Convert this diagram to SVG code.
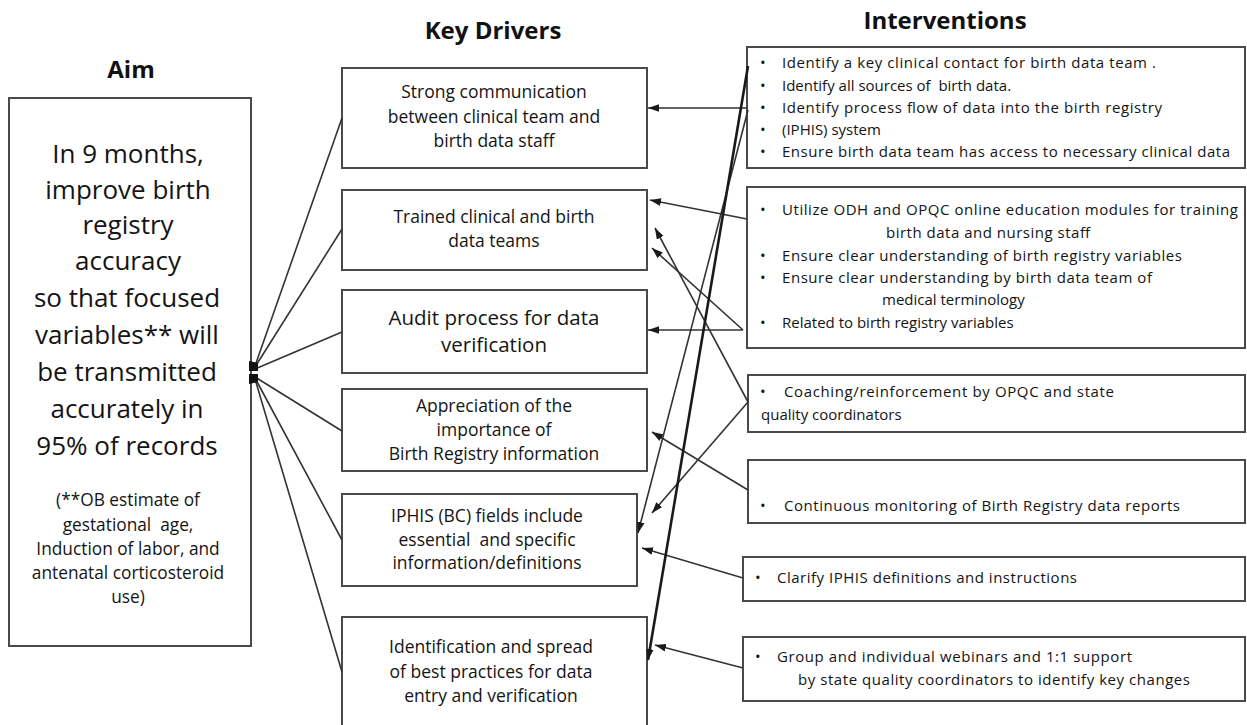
<svg xmlns="http://www.w3.org/2000/svg" width="1247" height="725" viewBox="0 0 1247 725">
<defs>
<style>
.box{fill:#fff;stroke:#4a4a4a;stroke-width:2}
.t{font-family:"Open Sans","Liberation Sans",sans-serif;fill:#141414;white-space:pre}
.title{font-family:"Open Sans","Liberation Sans",sans-serif;font-weight:bold;font-size:24px;fill:#111;text-anchor:middle}
.aim{font-size:26px;text-anchor:middle}
.aims{font-size:17.3px;text-anchor:middle}
.drv{font-size:17.5px;text-anchor:middle}
.drvL{font-size:20.5px;text-anchor:middle}
.iv{font-size:15px}
.c{fill:none;stroke:#333;stroke-width:1.6}
.ca{fill:none;stroke:#333;stroke-width:1.6;marker-end:url(#ah)}
.cb{fill:none;stroke:#1a1a1a;stroke-width:2.6;marker-end:url(#ah)}
</style>
<marker id="ah" viewBox="0 0 10 7" refX="10" refY="3.5" markerWidth="11" markerHeight="8" markerUnits="userSpaceOnUse" orient="auto">
<path d="M0,0 L10,3.5 L0,7 z" fill="#1a1a1a"/>
</marker>
</defs>
<rect width="1247" height="725" fill="#fff"/>

<text class="title" x="131" y="78">Aim</text>
<text class="title" x="493" y="39">Key Drivers</text>
<text class="title" x="945" y="29">Interventions</text>

<g id="aim">
<rect class="box" x="9" y="98" width="242" height="548"/>
<text class="t aim" x="128" y="163">In 9 months,</text>
<text class="t aim" x="128" y="199">improve birth</text>
<text class="t aim" x="128" y="234">registry</text>
<text class="t aim" x="128" y="270">accuracy</text>
<text class="t aim" x="127" y="307">so that focused</text>
<text class="t aim" x="127" y="344">variables** will</text>
<text class="t aim" x="127" y="381">be transmitted</text>
<text class="t aim" x="127" y="418">accurately in</text>
<text class="t aim" x="127" y="455">95% of records</text>
<text class="t aims" x="128" y="506">(**OB estimate of</text>
<text class="t aims" x="128" y="531">gestational  age,</text>
<text class="t aims" x="128" y="555">Induction of labor, and</text>
<text class="t aims" x="128" y="579">antenatal corticosteroid</text>
<text class="t aims" x="128" y="603">use)</text>
</g>

<g id="driver1">
<rect class="box" x="342" y="68" width="305" height="100"/>
<text class="t drv" x="494" y="98">Strong communication</text>
<text class="t drv" x="494" y="123">between clinical team and</text>
<text class="t drv" x="494" y="147">birth data staff</text>
</g>
<g id="driver2">
<rect class="box" x="342" y="190" width="305" height="80"/>
<text class="t drv" x="494" y="223">Trained clinical and birth</text>
<text class="t drv" x="494" y="247">data teams</text>
</g>
<g id="driver3">
<rect class="box" x="342" y="290" width="305" height="83"/>
<text class="t drvL" x="494" y="325">Audit process for data</text>
<text class="t drvL" x="494" y="352">verification</text>
</g>
<g id="driver4">
<rect class="box" x="342" y="389" width="305" height="82"/>
<text class="t drv" x="494" y="412">Appreciation of the</text>
<text class="t drv" x="494" y="436">importance of</text>
<text class="t drv" x="494" y="460">Birth Registry information</text>
</g>
<g id="driver5">
<rect class="box" x="342" y="494" width="295" height="92"/>
<text class="t drv" x="487" y="522">IPHIS (BC) fields include</text>
<text class="t drv" x="487" y="546">essential  and specific</text>
<text class="t drv" x="487" y="569">information/definitions</text>
</g>
<g id="driver6">
<rect class="box" x="342" y="617" width="305" height="130"/>
<text class="t drv" x="491" y="653">Identification and spread</text>
<text class="t drv" x="491" y="678">of best practices for data</text>
<text class="t drv" x="491" y="702">entry and verification</text>
</g>

<g id="intervention1">
<rect class="box" x="747" y="47" width="498" height="121"/>
<text class="t iv" x="760" y="68">•</text><text class="t iv" x="782" y="68" textLength="374" lengthAdjust="spacing">Identify a key clinical contact for birth data team .</text>
<text class="t iv" x="760" y="91">•</text><text class="t iv" x="782" y="91">Identify all sources of  birth data.</text>
<text class="t iv" x="760" y="113">•</text><text class="t iv" x="782" y="113" textLength="380" lengthAdjust="spacing">Identify process flow of data into the birth registry</text>
<text class="t iv" x="760" y="135">•</text><text class="t iv" x="782" y="135">(IPHIS) system</text>
<text class="t iv" x="760" y="157">•</text><text class="t iv" x="782" y="157" textLength="448" lengthAdjust="spacing">Ensure birth data team has access to necessary clinical data</text>
</g>
<g id="intervention2">
<rect class="box" x="747" y="187" width="498" height="161"/>
<text class="t iv" x="760" y="215">•</text><text class="t iv" x="782" y="215" textLength="456" lengthAdjust="spacing">Utilize ODH and OPQC online education modules for training</text>
<text class="t iv" x="886" y="238" textLength="204" lengthAdjust="spacing">birth data and nursing staff</text>
<text class="t iv" x="760" y="261">•</text><text class="t iv" x="782" y="261" textLength="400" lengthAdjust="spacing">Ensure clear understanding of birth registry variables</text>
<text class="t iv" x="760" y="283">•</text><text class="t iv" x="782" y="283" textLength="370" lengthAdjust="spacing">Ensure clear understanding by birth data team of</text>
<text class="t iv" x="882" y="305">medical terminology</text>
<text class="t iv" x="760" y="328">•</text><text class="t iv" x="782" y="328">Related to birth registry variables</text>
</g>
<g id="intervention3">
<rect class="box" x="748" y="375" width="497" height="57"/>
<text class="t iv" x="760" y="397">•</text><text class="t iv" x="784" y="397" textLength="330" lengthAdjust="spacing">Coaching/reinforcement by OPQC and state</text>
<text class="t iv" x="761" y="420">quality coordinators</text>
</g>
<g id="intervention4">
<rect class="box" x="748" y="460" width="497" height="63"/>
<text class="t iv" x="760" y="511">•</text><text class="t iv" x="784" y="511" textLength="396" lengthAdjust="spacing">Continuous monitoring of Birth Registry data reports</text>
</g>
<g id="intervention5">
<rect class="box" x="743" y="557" width="502" height="44"/>
<text class="t iv" x="755" y="583">•</text><text class="t iv" x="777" y="583" textLength="300" lengthAdjust="spacing">Clarify IPHIS definitions and instructions</text>
</g>
<g id="intervention6">
<rect class="box" x="743" y="637" width="502" height="64"/>
<text class="t iv" x="755" y="662">•</text><text class="t iv" x="777" y="662" textLength="355" lengthAdjust="spacing">Group and individual webinars and 1:1 support</text>
<text class="t iv" x="798" y="685" textLength="392" lengthAdjust="spacing">by state quality coordinators to identify key changes</text>
</g>

<g id="connectors">
<line class="c" x1="255" y1="366" x2="342" y2="118"/>
<line class="c" x1="255" y1="367" x2="342" y2="229"/>
<line class="c" x1="255" y1="369" x2="342" y2="332"/>
<line class="c" x1="255" y1="377" x2="342" y2="431"/>
<line class="c" x1="255" y1="378" x2="342" y2="540"/>
<line class="c" x1="255" y1="379" x2="342" y2="672"/>
<path d="M249,361 L258,363 L258,371 L249,371 z M249,374 L258,374 L258,382 L249,384 z" fill="#111"/>

<line class="ca" x1="747" y1="108" x2="648" y2="108"/>
<line class="ca" x1="747" y1="219" x2="650" y2="200"/>
<line class="ca" x1="748" y1="402" x2="655" y2="228"/>
<line class="ca" x1="743" y1="330" x2="652" y2="248"/>
<line class="ca" x1="743" y1="330" x2="648" y2="330"/>
<line class="ca" x1="748" y1="490" x2="652" y2="432"/>
<line class="ca" x1="748" y1="402" x2="652" y2="513"/>
<line class="ca" x1="748" y1="110" x2="638" y2="533"/>
<line class="ca" x1="743" y1="578" x2="642" y2="548"/>
<line class="cb" x1="748" y1="66" x2="648" y2="660"/>
<line class="ca" x1="743" y1="668" x2="655" y2="645"/>
</g>
</svg>
